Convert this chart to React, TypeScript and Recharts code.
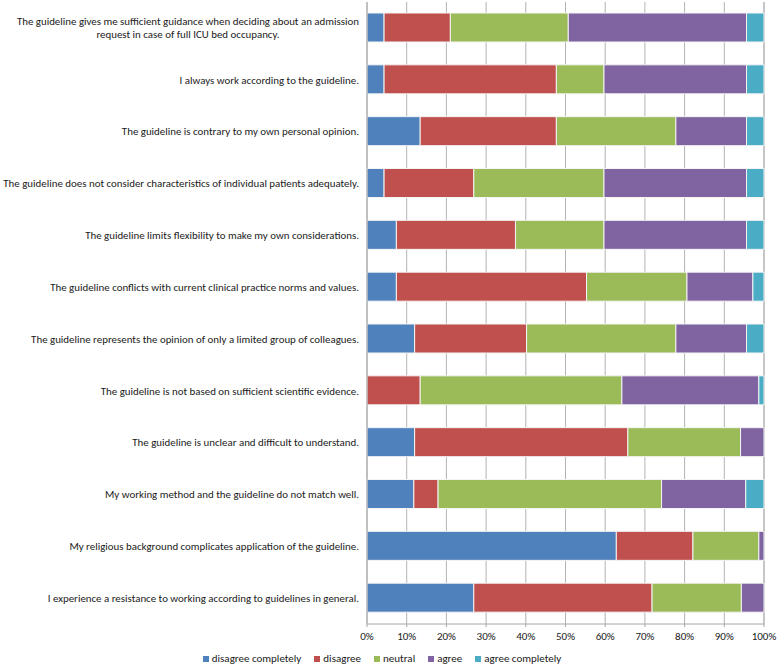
import React from "react";
import { BarChart, Bar, XAxis, YAxis, CartesianGrid, Legend } from "recharts";

const categories = [
  "The guideline gives me sufficient guidance when deciding about an admission\nrequest in case of full ICU bed occupancy.",
  "I always work according to the guideline.",
  "The guideline is contrary to my own personal opinion.",
  "The guideline does not consider characteristics of individual patients adequately.",
  "The guideline limits flexibility to make my own considerations.",
  "The guideline conflicts with current clinical practice norms and values.",
  "The guideline represents the opinion of only a limited group of colleagues.",
  "The guideline is not based on sufficient scientific evidence.",
  "The guideline is unclear and difficult to understand.",
  "My working method and the guideline do not match well.",
  "My religious background complicates application of the guideline.",
  "I experience a resistance to working according to guidelines in general.",
];

const disagreeCompletely = [4.3, 4.3, 13.4, 4.3, 7.4, 7.4, 12.0, 0, 12.0, 11.8, 62.8, 26.9];
const disagree = [16.7, 43.4, 34.3, 22.6, 30.0, 47.9, 28.2, 13.4, 53.7, 6.1, 19.3, 44.9];
const neutral = [29.7, 12.0, 30.1, 32.8, 22.3, 25.3, 37.6, 50.8, 28.4, 56.3, 16.6, 22.5];
const agree = [44.9, 35.9, 17.8, 35.9, 35.9, 16.6, 17.8, 34.5, 5.9, 21.2, 1.3, 5.7];
const agreeCompletely = [4.4, 4.4, 4.4, 4.4, 4.4, 2.8, 4.4, 1.3, 0, 4.6, 0, 0];

const xTicks = [0, 10, 20, 30, 40, 50, 60, 70, 80, 90, 100];

const seriesNames = ["disagree completely", "disagree", "neutral", "agree", "agree completely"];
const seriesKeys = ["dc", "d", "n", "a", "ac"];
const seriesColors = ["#4F81BD", "#C0504D", "#9BBB59", "#8064A2", "#4BACC6"];

const data = categories.map((label, i) => ({
  label,
  dc: disagreeCompletely[i],
  d: disagree[i],
  n: neutral[i],
  a: agree[i],
  ac: agreeCompletely[i],
}));

const FONT = "Carlito, Calibri, Lato, sans-serif";
const FONT_SIZE = 10.9;

let ctx: CanvasRenderingContext2D | null = null;
function measure(text: string): number {
  if (!ctx) {
    const c = document.createElement("canvas");
    ctx = c.getContext("2d");
  }
  if (!ctx) return text.length * 4.3;
  ctx.font = `${FONT_SIZE}px ${FONT}`;
  return ctx.measureText(text).width;
}

const CategoryTick = (props: any) => {
  const { x, y, payload } = props;
  const lines: string[] = String(payload.value).split("\n");
  const maxW = Math.max(...lines.map(measure));
  const cx = x - maxW / 2;
  const lh = 13;
  const startY = y - ((lines.length - 1) * lh) / 2;
  return (
    <g>
      {lines.map((ln, i) => (
        <text
          key={i}
          x={cx}
          y={startY + i * lh}
          dy="0.35em"
          textAnchor="middle"
          fontFamily={FONT}
          fontSize={FONT_SIZE}
          fill="#1a1a1a"
        >
          {ln}
        </text>
      ))}
    </g>
  );
};

const LegendContent = () => (
  <div
    style={{
      display: "flex",
      justifyContent: "center",
      alignItems: "center",
      fontFamily: FONT,
      fontSize: 11,
      lineHeight: "14px",
      color: "#1a1a1a",
      paddingTop: 6,
    }}
  >
    {seriesNames.map((name, i) => (
      <div key={name} style={{ display: "flex", alignItems: "center", marginRight: i < 4 ? 13 : 0 }}>
        <span
          style={{
            display: "inline-block",
            width: 6,
            height: 6,
            background: seriesColors[i],
            marginRight: 3,
          }}
        />
        <span>{name}</span>
      </div>
    ))}
  </div>
);

export default function App() {
  return (
    <div style={{ position: "absolute", left: 0, top: 0, width: 778, height: 666, background: "#fff" }}>
      <BarChart
        width={778}
        height={666}
        data={data}
        layout="vertical"
        margin={{ top: 2, right: 14, bottom: 0, left: 0 }}
        barSize={29}
      >
        <CartesianGrid horizontal={false} vertical={true} stroke="#b3b3b3" strokeWidth={1} />
        <XAxis
          type="number"
          domain={[0, 100]}
          ticks={xTicks}
          tickFormatter={(v: number) => `${v}%`}
          height={22}
          axisLine={{ stroke: "#a6a6a6" }}
          tickLine={{ stroke: "#a6a6a6" }}
          tickSize={3}
          tickMargin={5}
          tick={{ fontFamily: FONT, fontSize: 11, fill: "#1a1a1a" }}
          interval={0}
        />
        <YAxis
          type="category"
          dataKey="label"
          width={367}
          axisLine={{ stroke: "#a6a6a6" }}
          tickLine={false}
          tick={<CategoryTick />}
          interval={0}
        />
        <Legend verticalAlign="bottom" height={20} content={<LegendContent />} />
        {seriesKeys.map((k, i) => (
          <Bar
            key={k}
            dataKey={k}
            name={seriesNames[i]}
            stackId="s"
            fill={seriesColors[i]}
            stroke="#f4f4f4"
            strokeWidth={1}
            isAnimationActive={false}
          />
        ))}
      </BarChart>
    </div>
  );
}
